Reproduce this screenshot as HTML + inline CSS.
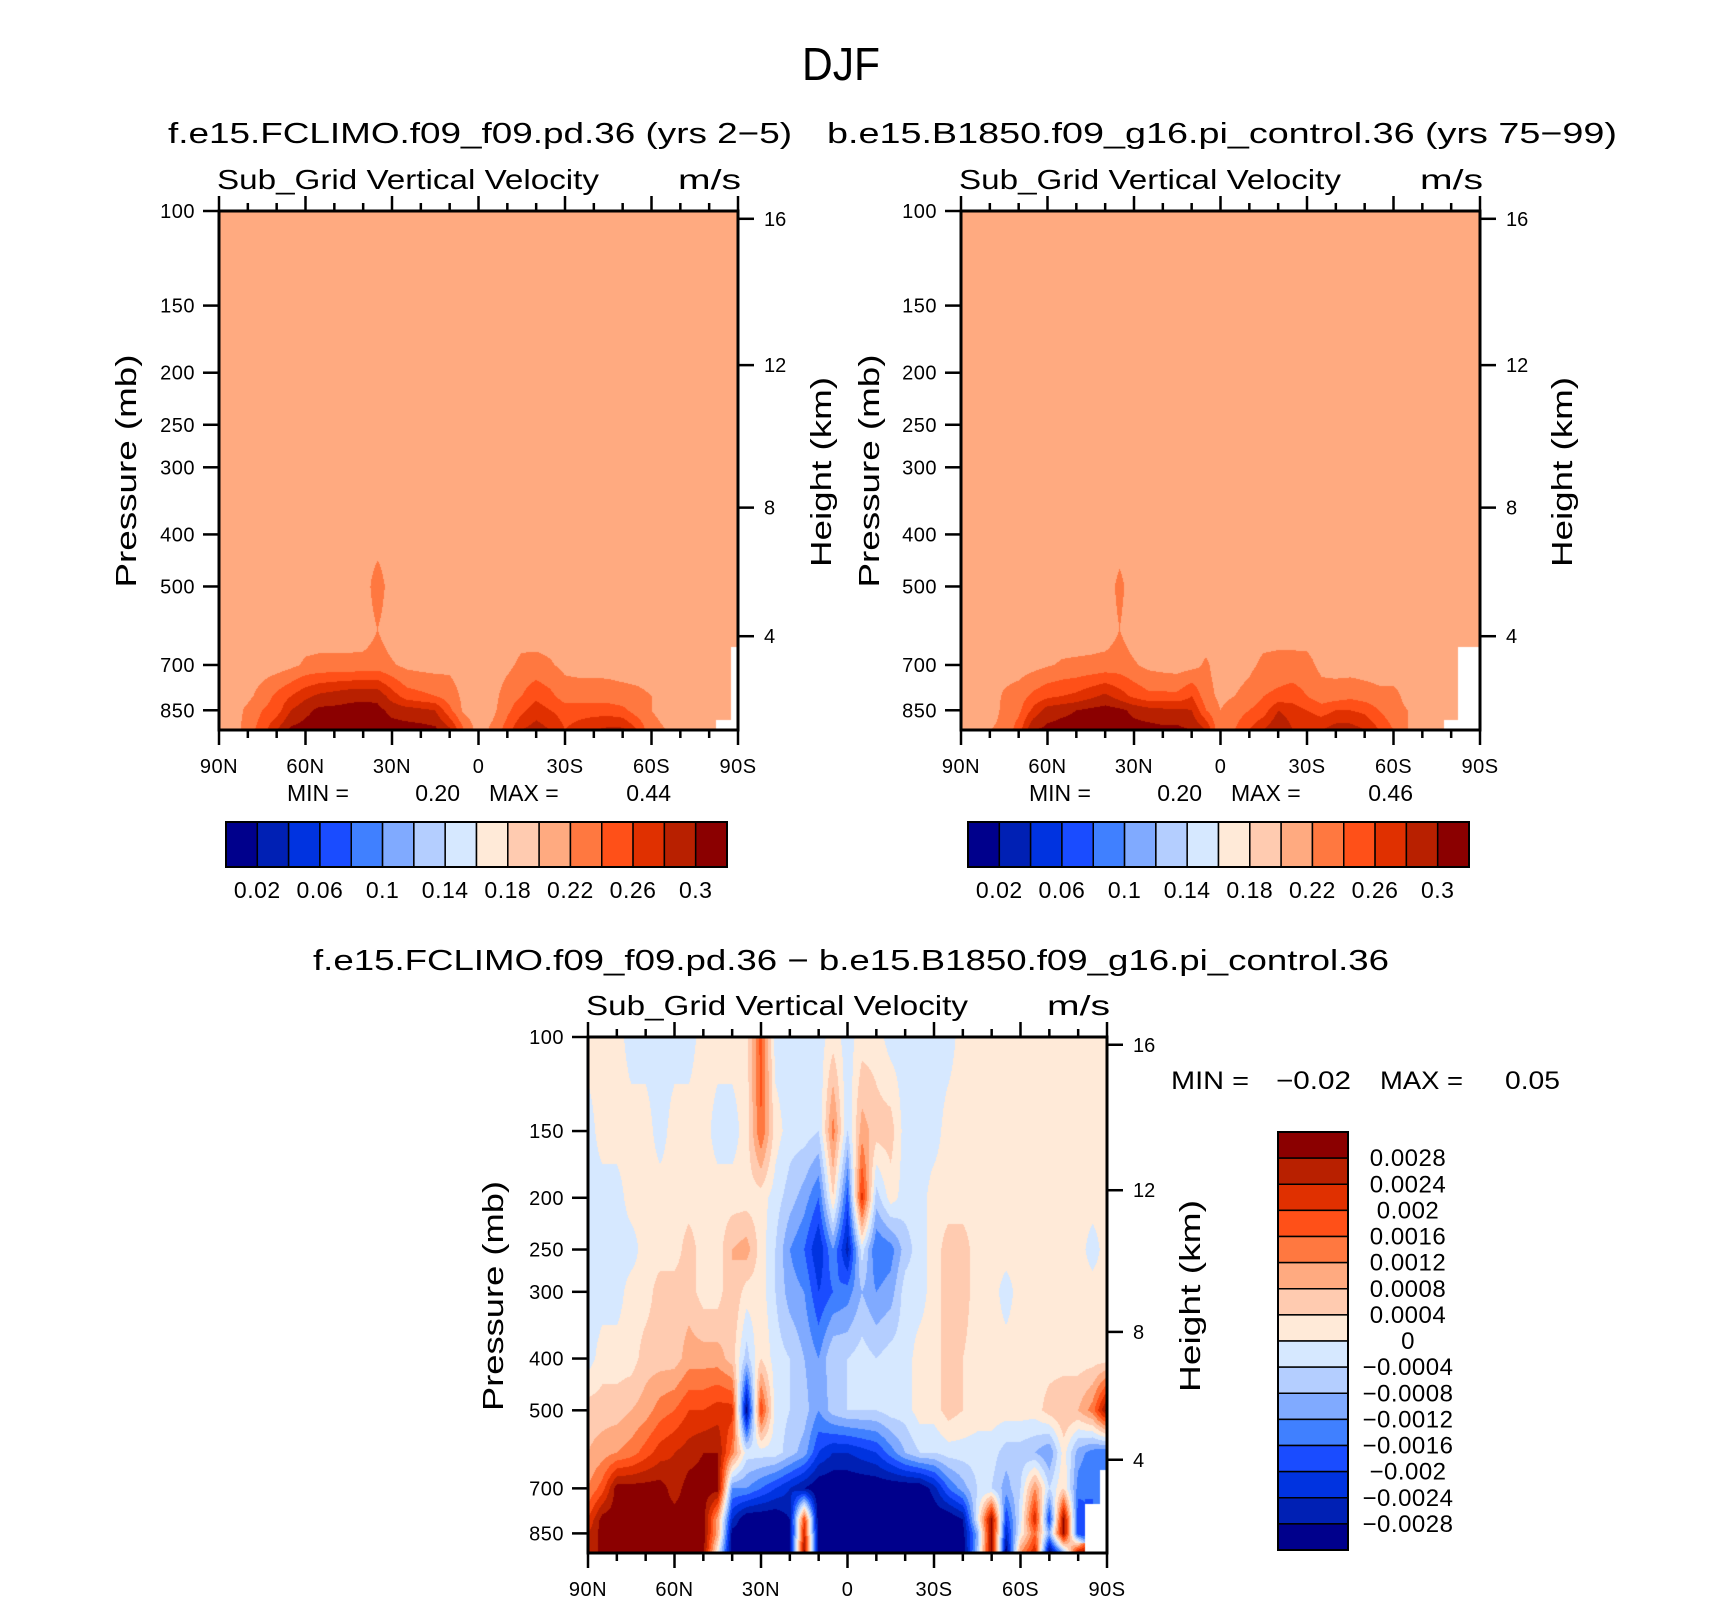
<!DOCTYPE html>
<html><head><meta charset="utf-8">
<style>
html,body{margin:0;padding:0;background:#fff;}
#wrap{position:relative;width:1710px;height:1601px;overflow:hidden;background:#fff;}
canvas{position:absolute;}
svg{position:absolute;left:0;top:0;}
text{font-family:"Liberation Sans",sans-serif;fill:#000;}
</style></head>
<body>
<div id="wrap">
<canvas id="c1"></canvas>
<canvas id="c2"></canvas>
<canvas id="c3"></canvas>
<svg id="svg" width="1710" height="1601"></svg>
</div>
<script>
// ---------- data ----------
const lats = [90,85,80,75,70,65,60,55,50,45,40,35,30,25,20,15,10,5,0,-5,-10,-15,-20,-25,-30,-35,-40,-45,-50,-55,-60,-65,-70,-75,-80,-85,-90];
const plev = [100,150,200,250,300,400,500,600,700,800,850,925];
const N = NaN;
const xLabels = ["90N","60N","30N","0","30S","60S","90S"];
const xLabelLats = [90,60,30,0,-30,-60,-90];
const pTicks = [100,150,200,250,300,400,500,700,850];
const hTicks = ["16","12","8","4"];
const hTickP = [103.4,193.6,356.6,618.8];
const colors = ["#00008c","#0020b4","#0033e0","#1a4cff","#4080ff","#80aaff","#b4ceff","#d6e8ff","#ffead8","#ffcbb0","#ffaa80","#ff7840","#ff5018","#e03000","#b82000","#8b0000"];
// top panels: units of 0.01 m/s
const topLevels = [2,4,6,8,10,12,14,16,18,20,22,24,26,28,30];
const topLabels = ["0.02","0.06","0.1","0.14","0.18","0.22","0.26","0.3"];
const flat = () => new Array(37).fill(21);
const a500 = flat(); a500[11]=23;
const a600 = flat(); a600[11]=22;
const a700 = [21,21,21,21,21,21.5,22.3,22.5,22.5,22.5,22.6,22.8,22.2,21.5,21.3,21.2,21.5,21,21,21,21.5,22.5,22.6,22.2,21.5,21.3,21.3,21.2,21,21,21,21,21,21,21,21,N];
const a800 = [21,21,21.5,22.8,24.5,26,27.5,28.5,29,29.5,29.5,29.5,27,25,24.5,24,23,21.5,21,21.3,23,24,25.5,24.5,23,23,23,23,22.8,22.5,22,21.5,21,21,21,21,N];
const a850 = [21,21,22.5,24,25,28,29.5,30.5,30.5,30.5,30.8,30.5,29.5,29,28.5,28,24.5,21.5,21,21.5,23.5,25.5,27,26,25,25,25,25,24.5,23,22,21.5,21.5,22,21.5,21,N];
const a925 = [21,21,23,25,28,30.5,30.8,30.8,30.8,30.8,30.8,30.8,30.8,30.8,30.8,30.5,28.5,24,21,22.5,25,28,29,28,26,27,28,28.5,28.5,26,22.5,22,22,22,22,N,N];
const fieldA = [flat(),flat(),flat(),flat(),flat(),flat(),a500,a600,a700,a800,a850,a925];
const b500 = flat(); b500[11]=22.5;
const b600 = flat(); b600[11]=22;
const b700 = [21,21,21,21,21,21.3,21.8,22.2,22.3,22.4,22.6,22.8,22.2,21.5,21.2,21,21.3,22.3,21,21,21.5,22.5,22.7,22.7,22.6,21.5,21.2,21,21,21,21,21,21,21,21,N,N];
const b800 = [21,21,21,22.3,23,24.5,25.5,26,26.5,27.5,28.5,27,25.5,24.5,24.5,24.5,26,22.8,21.5,22,22.8,24,24.5,25,24,22.8,23,23.5,23,22.5,22.5,21.5,21.5,21.5,21.5,N,N];
const b850 = [21,21,21,22.5,23.5,26.5,29,29.5,30,30.5,30.8,30.5,29.5,28.8,28.5,28.5,28,24,22,23,24,25,28,27,26,25,26,26,25.5,24,22.5,22,21.5,22,21.5,N,N];
const b925 = [21,21,22,22.5,25,30,30.5,30.8,30.8,30.8,30.8,30.8,30.8,30.8,30.5,30.5,30,28,22,24,26,28,30,28,28,28,29,29,28,26,24,22,21.5,22,N,N,N];
const fieldB = [flat(),flat(),flat(),flat(),flat(),flat(),b500,b600,b700,b800,b850,b925];
// difference: units of 1e-4 m/s
const diffLevels = [-28,-24,-20,-16,-12,-8,-4,0,4,8,12,16,20,24,28];
const diffLabels = ["0.0028","0.0024","0.002","0.0016","0.0012","0.0008","0.0004","0","\u22120.0004","\u22120.0008","\u22120.0012","\u22120.0016","\u22120.002","\u22120.0024","\u22120.0028"];
const d100 = [2,2,2,-2,-2,-2,-2,-2,2,2,2,2,18,-2,-2,-2,-2,2,-2,2,2,-2,-2,-2,-2,-2,2,2,2,2,2,2,2,2,2,2,2];
const d150 = [-2,2,2,2,2,-2,2,2,2,-2,-2,2,16,2,-2,-2,-4,14,-4,10,6,6,-2,-2,-2,2,2,2,2,2,2,2,2,2,2,2,2];
const d200 = [-2,-2,-2,2,2,2,2,2,2,2,2,2,2,-2,-6,-10,-16,4,-18,22,-6,2,-2,-2,2,2,2,2,2,2,2,2,2,2,2,2,2];
const d250 = [-2,-2,-2,-2,2,2,2,6,2,2,8,10,2,-4,-12,-16,-24,-12,-26,-2,-16,-14,-6,-2,2,6,6,2,2,2,2,2,2,2,2,-2,2];
const d300 = [-2,-2,-2,2,2,6,6,6,2,2,8,2,2,-4,-10,-12,-20,-16,-14,-8,-12,-10,-2,-2,2,6,6,2,2,-2,2,2,2,2,2,2,2];
const d400 = [-2,2,2,2,6,6,6,10,10,10,6,-6,4,-2,-4,-8,-12,-4,-4,-2,-4,-2,-2,2,2,6,4,2,2,2,2,2,2,2,2,2,2];
const d500 = [6,6,6,8,10,14,16,20,20,22,22,-30,20,-2,-4,-6,-12,-6,-4,-4,-4,-2,-2,2,2,6,4,2,2,2,2,2,6,8,8,14,30];
const d600 = [8,10,12,14,18,22,24,26,28,28,14,-2,-2,-2,-6,-10,-20,-24,-24,-22,-20,-14,-8,-4,-4,-2,-2,-2,-2,-6,-6,-8,-12,2,-10,-14,-16];
const d700 = [12,18,30,30,30,30,26,30,30,30,-12,-12,-16,-20,-24,-28,-32,-32,-32,-32,-32,-32,-32,-32,-26,-16,-10,-4,-4,-10,-4,12,-4,4,-14,-16,N];
const d800 = [20,30,30,30,30,30,30,30,30,10,-24,-32,-32,-32,-28,20,-32,-32,-32,-32,-32,-32,-32,-32,-32,-32,-28,-2,30,-20,-2,24,-20,30,-20,N,N];
const d850 = [24,30,30,30,30,30,30,30,30,10,-30,-32,-32,-32,-30,24,-32,-32,-32,-32,-32,-32,-32,-32,-32,-32,-30,-10,30,-24,0,16,-10,30,-20,N,N];
const d925 = [24,30,30,30,30,30,30,30,30,0,-32,-32,-32,-32,-28,30,-32,-32,-32,-32,-32,-32,-32,-32,-32,-32,-32,-8,30,-32,12,24,-32,-10,28,N,N];
const fieldD = [d100,d150,d200,d250,d300,d400,d500,d600,d700,d800,d850,d925];

// ---------- helpers ----------
const SVGNS = "http://www.w3.org/2000/svg";
const svg = document.getElementById("svg");
const P_TOP = 100, P_BOT = 925;
function mk(tag, attrs, parent){ const e=document.createElementNS(SVGNS,tag); for(const k in attrs) e.setAttribute(k,attrs[k]); (parent||svg).appendChild(e); return e; }
function txt(s,x,y,size,anchor,name,extra){ const t=mk("text",Object.assign({x:x,y:y,"font-size":size,"text-anchor":anchor||"start"},extra||{})); t.textContent=s;
  
  
  return t; }
function makeAxes(x0,y0,W,H){
  return { x: lat => x0 + (90-lat)/180*W,
           y: p => y0 + Math.log(p/P_TOP)/Math.log(P_BOT/P_TOP)*H };
}
function colorIndex(v, levels){ let i=0; while(i<levels.length && v>=levels[i]) i++; return i; }
function hexToRgb(h){ return [parseInt(h.slice(1,3),16),parseInt(h.slice(3,5),16),parseInt(h.slice(5,7),16)]; }
const rgb = colors.map(hexToRgb);

function renderField(id, x0,y0,W,H, grid, levels){
  const cv=document.getElementById(id);
  cv.width=W; cv.height=H; cv.style.left=x0+"px"; cv.style.top=y0+"px";
  const ctx=cv.getContext("2d"); const img=ctx.createImageData(W,H);
  const lnP=plev.map(p=>Math.log(p));
  const L=Math.log(P_BOT/P_TOP);
  for(let py=0;py<H;py++){
    const lp=Math.log(P_TOP)+(py+0.5)/H*L;
    let r=0; while(r<plev.length-2 && lp>lnP[r+1]) r++;
    let t=(lp-lnP[r])/(lnP[r+1]-lnP[r]); t=Math.max(0,Math.min(1,t));
    const rn = t<0.5?r:r+1;
    for(let px=0;px<W;px++){
      const lat=90-(px+0.5)/W*180;
      let c=(90-lat)/5; let c0=Math.min(Math.floor(c),lats.length-2); let s=c-c0;
      const cn = s<0.5?c0:c0+1;
      const idx=(py*W+px)*4;
      if(isNaN(grid[rn][cn])){ img.data[idx]=255;img.data[idx+1]=255;img.data[idx+2]=255;img.data[idx+3]=255; continue; }
      const g=(rr,cc)=>{const v=grid[rr][cc]; return isNaN(v)?grid[rn][cn]:v;};
      const v=(1-t)*((1-s)*g(r,c0)+s*g(r,c0+1))+t*((1-s)*g(r+1,c0)+s*g(r+1,c0+1));
      const col=rgb[colorIndex(v,levels)];
      img.data[idx]=col[0];img.data[idx+1]=col[1];img.data[idx+2]=col[2];img.data[idx+3]=255;
    }
  }
  ctx.putImageData(img,0,0);
}

function drawFrame(x0,y0,W,H,prefix){
  const ax=makeAxes(x0,y0,W,H);
  const g=mk("g",{});
  
  
  mk("rect",{x:x0,y:y0,width:W,height:H,fill:"none",stroke:"#000","stroke-width":3},g);
  for(let lat=90;lat>=-90;lat-=10){
    const major = lat%30===0; const len = major?15:8; const x=ax.x(lat);
    mk("line",{x1:x,y1:y0,x2:x,y2:y0-len,stroke:"#000","stroke-width":2.5},g);
    mk("line",{x1:x,y1:y0+H,x2:x,y2:y0+H+len,stroke:"#000","stroke-width":2.5},g);
  }
  xLabels.forEach((s,i)=>{ txt(s,ax.x(xLabelLats[i]),y0+H+43,20,"middle",prefix+"-x-tick-label",{"letter-spacing":"0.5"}); });
  pTicks.forEach(p=>{ const y=ax.y(p);
    mk("line",{x1:x0-16,y1:y,x2:x0,y2:y,stroke:"#000","stroke-width":2.5},g);
    txt(String(p),x0-24,y+7,20,"end",prefix+"-pressure-tick-label",{"letter-spacing":"0.5"}); });
  hTickP.forEach((p,i)=>{ const y=ax.y(p);
    mk("line",{x1:x0+W,y1:y,x2:x0+W+16,y2:y,stroke:"#000","stroke-width":2.5},g);
    txt(hTicks[i],x0+W+26,y+7,20,"start",prefix+"-height-tick-label"); });
  txt("Sub_Grid Vertical Velocity",x0-2,y0-22,28,"start",prefix+"-long-name",{textLength:382,lengthAdjust:"spacingAndGlyphs"});
  txt("m/s",x0+W+3,y0-22,28,"end",prefix+"-units",{textLength:63,lengthAdjust:"spacingAndGlyphs"});
  return ax;
}
function vlabel(s,cx,cy,len,name){
  const t=mk("text",{x:0,y:0,"font-size":29,"text-anchor":"middle",transform:`translate(${cx},${cy}) rotate(-90)`,textLength:len,lengthAdjust:"spacingAndGlyphs"});
  t.textContent=s;
  
  
}
function hColorbar(x0,y0,W,H,prefix){
  const bw=W/16;
  colors.forEach((c,i)=>{ const r=mk("rect",{x:x0+i*bw,y:y0,width:bw,height:H,fill:c,stroke:"#000","stroke-width":1.5});
    
     });
  mk("rect",{x:x0,y:y0,width:W,height:H,fill:"none",stroke:"#000","stroke-width":2});
  topLabels.forEach((s,i)=>{ txt(s,x0+(2*i+1)*bw,y0+H+31,23,"middle",prefix+"-colorbar-label",{"letter-spacing":"0.5"}); });
}

// ---------- layout ----------
const P1={x:219,y:211,w:519,h:519}, P2={x:961,y:211,w:519,h:519}, P3={x:588,y:1037,w:519,h:516};
renderField("c1",P1.x,P1.y,P1.w,P1.h,fieldA,topLevels);
renderField("c2",P2.x,P2.y,P2.w,P2.h,fieldB,topLevels);
renderField("c3",P3.x,P3.y,P3.w,P3.h,fieldD,diffLevels);

txt("DJF",841,80,46,"middle","figure-title",{textLength:78,lengthAdjust:"spacingAndGlyphs"});
txt("f.e15.FCLIMO.f09_f09.pd.36 (yrs 2\u22125)",168,143,29,"start","left-panel-title",{textLength:624,lengthAdjust:"spacingAndGlyphs"});
txt("b.e15.B1850.f09_g16.pi_control.36 (yrs 75\u221299)",827,143,29,"start","right-panel-title",{textLength:790,lengthAdjust:"spacingAndGlyphs"});
drawFrame(P1.x,P1.y,P1.w,P1.h,"left-panel");
drawFrame(P2.x,P2.y,P2.w,P2.h,"right-panel");
vlabel("Pressure (mb)",136,471,233,"left-y-axis-title");
vlabel("Height (km)",831,472,190,"left-y2-axis-title");
vlabel("Pressure (mb)",879,471,233,"right-y-axis-title");
vlabel("Height (km)",1572,472,190,"right-y2-axis-title");
function minmax(x,y,minv,maxv,size,prefix){
  txt("MIN =",x,y,size,"start",prefix+"-min-label");
  txt(minv,x+173,y,size,"end",prefix+"-min-value");
  txt("MAX =",x+202,y,size,"start",prefix+"-max-label");
  txt(maxv,x+384,y,size,"end",prefix+"-max-value");
}
minmax(287,801,"0.20","0.44",23,"left");
minmax(1029,801,"0.20","0.46",23,"right");
hColorbar(226,822,501,45,"left");
hColorbar(968,822,501,45,"right");

txt("f.e15.FCLIMO.f09_f09.pd.36 \u2212 b.e15.B1850.f09_g16.pi_control.36",313,970,29,"start","difference-title",{textLength:1076,lengthAdjust:"spacingAndGlyphs"});
drawFrame(P3.x,P3.y,P3.w,P3.h,"diff-panel");
vlabel("Pressure (mb)",503,1296,230,"diff-y-axis-title");
vlabel("Height (km)",1200,1296,192,"diff-y2-axis-title");
txt("MIN =",1171,1089,25,"start","diff-min-label",{textLength:78,lengthAdjust:"spacingAndGlyphs"});
txt("\u22120.02",1276,1089,25,"start","diff-min-value",{textLength:75,lengthAdjust:"spacingAndGlyphs"});
txt("MAX =",1380,1089,25,"start","diff-max-label",{textLength:83,lengthAdjust:"spacingAndGlyphs"});
txt("0.05",1505,1089,25,"start","diff-max-value",{textLength:55,lengthAdjust:"spacingAndGlyphs"});
// vertical colorbar
(function(){
  const x0=1278,y0=1132,W=70,H=418,bh=H/16;
  for(let i=0;i<16;i++){
    const r=mk("rect",{x:x0,y:y0+i*bh,width:W,height:bh,fill:colors[15-i],stroke:"#000","stroke-width":1.5});
    
    
  }
  mk("rect",{x:x0,y:y0,width:W,height:H,fill:"none",stroke:"#000","stroke-width":2});
  diffLabels.forEach((s,i)=>{ txt(s,1408,y0+(i+1)*bh+8,24,"middle","diff-colorbar-label",{"letter-spacing":"0.5"}); });
})();
</script>
</body></html>
